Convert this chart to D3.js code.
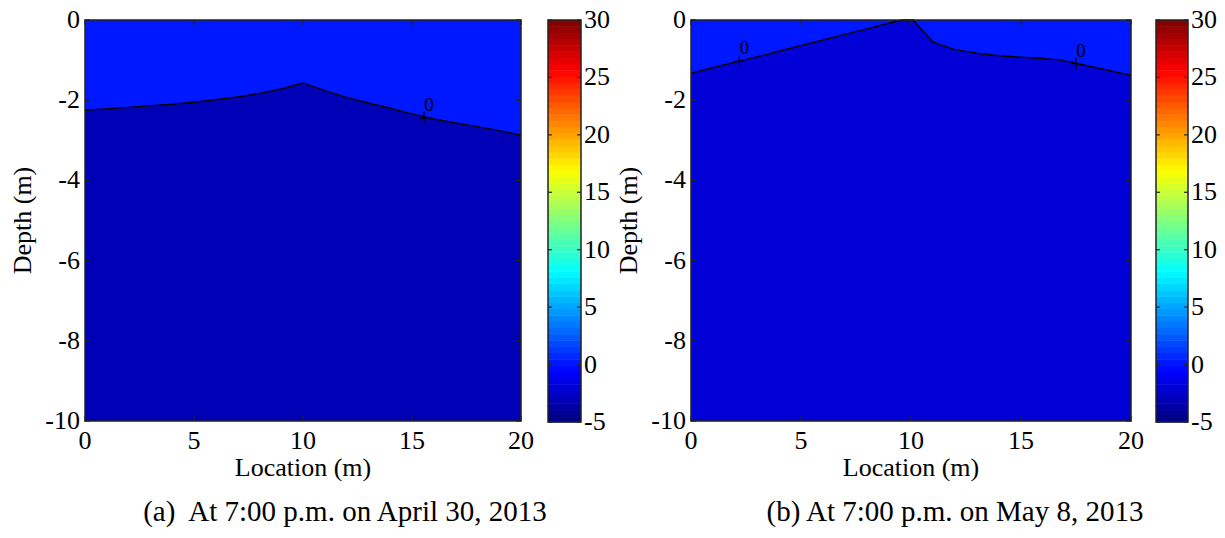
<!DOCTYPE html>
<html>
<head>
<meta charset="utf-8">
<script src="https://cdn.jsdelivr.net/npm/d3@7"></script>
<style>
  body { margin: 0; background: #fff; }
  svg { display: block; }
  text { font-family: "Liberation Serif", "Times New Roman", serif; fill: #000; }
  .caption { white-space: pre; }
</style>
</head>
<body>
<svg id="fig" width="1225" height="538"></svg>
<script>
// Axis ticks
const locationTicks = [0, 5, 10, 15, 20];
const depthTicks = [0, -2, -4, -6, -8, -10];
const colorTicks = [-5, 0, 5, 10, 15, 20, 25, 30];

// Zero-temperature contour, April 30 (location m, depth m)
const aprLoc   = [0, 2, 4, 5, 6, 7, 8, 9, 10, 11, 12, 13, 14, 15, 16, 17, 18, 19, 20];
const aprDepth = [-2.25, -2.18, -2.10, -2.05, -1.99, -1.92, -1.83, -1.72, -1.57, -1.76, -1.93, -2.07, -2.20, -2.34, -2.47, -2.57, -2.66, -2.76, -2.87];
const aprLabelLoc = [15.55];
const aprLabelDepth = [-2.44];

// Zero-temperature contour, May 8
const mayLoc   = [0, 1, 2, 3, 4, 5, 6, 7, 8, 9, 9.6, 10.1, 10.5, 11, 12, 13, 14, 15, 16, 16.8, 17.5, 18, 19, 20];
const mayDepth = [-1.33, -1.19, -1.05, -0.92, -0.78, -0.64, -0.50, -0.36, -0.22, -0.08, 0, 0, -0.25, -0.55, -0.74, -0.83, -0.89, -0.93, -0.96, -1.0, -1.08, -1.14, -1.26, -1.38];
const mayLabelLoc = [2.2, 17.5];
const mayLabelDepth = [-1.03, -1.09];

// Temperature level filling each side of the contour (°C)
const levelAbove = [0.3, 0.3];
const levelBelow = [-3.0, -2.2];

const captions = ["(a)  At 7:00 p.m. on April 30, 2013", "(b) At 7:00 p.m. on May 8, 2013"];

const cMin = -5, cMax = 30, nBands = 64;

// MATLAB-style jet colormap
function jet(t) {
  const c = v => Math.round(255 * Math.max(0, Math.min(1, v)));
  return d3.rgb(c(1.5 - Math.abs(4 * t - 3)), c(1.5 - Math.abs(4 * t - 2)), c(1.5 - Math.abs(4 * t - 1))).formatHex();
}
const colorOf = v => {
  const i = Math.min(nBands - 1, Math.max(0, Math.floor((v - cMin) / (cMax - cMin) * nBands)));
  return jet((i + 0.5) / nBands);
};

const svg = d3.select("#fig");

const panels = [
  { loc: aprLoc, depth: aprDepth, lLoc: aprLabelLoc, lDepth: aprLabelDepth,
    plot: { x0: 85, x1: 521, y0: 20, y1: 421 }, cbar: { x0: 548, x1: 581, y0: 20, y1: 422 },
    above: levelAbove[0], below: levelBelow[0], caption: captions[0], capX: 345 },
  { loc: mayLoc, depth: mayDepth, lLoc: mayLabelLoc, lDepth: mayLabelDepth,
    plot: { x0: 691, x1: 1131, y0: 20, y1: 421 }, cbar: { x0: 1156, x1: 1188, y0: 20, y1: 422 },
    above: levelAbove[1], below: levelBelow[1], caption: captions[1], capX: 955 }
];

const fs = 26;

panels.forEach(p => {
  const g = svg.append("g");
  const x = d3.scaleLinear().domain([0, 20]).range([p.plot.x0, p.plot.x1]);
  const y = d3.scaleLinear().domain([0, -10]).range([p.plot.y0, p.plot.y1]);
  const pts = p.loc.map((l, i) => [l, p.depth[i]]);

  // filled regions on both sides of the contour
  g.append("path").datum(pts)
    .attr("d", d3.area().x(d => x(d[0])).y0(y(0)).y1(d => y(d[1])))
    .attr("fill", colorOf(p.above));
  g.append("path").datum(pts)
    .attr("d", d3.area().x(d => x(d[0])).y0(y(-10)).y1(d => y(d[1])))
    .attr("fill", colorOf(p.below));

  // contour line
  g.append("path").datum(pts)
    .attr("d", d3.line().x(d => x(d[0])).y(d => y(d[1])))
    .attr("fill", "none").attr("stroke", "#000").attr("stroke-width", 1.4);

  // contour labels
  p.lLoc.forEach((l, i) => {
    const cx = x(l), cy = y(p.lDepth[i]);
    g.append("path").attr("d", `M${cx - 5},${cy}H${cx + 5}M${cx},${cy - 6}V${cy + 6}`)
      .attr("stroke", "#000").attr("stroke-width", 1.3);
    g.append("text").attr("x", cx + 5).attr("y", cy - 7).attr("text-anchor", "middle")
      .attr("font-size", 19).text("0");
  });

  // axes box and inward ticks
  const tl = 5;
  const ticks = g.append("g").attr("stroke", "#222").attr("stroke-width", 1.2);
  locationTicks.forEach(t => {
    ticks.append("line").attr("x1", x(t)).attr("x2", x(t)).attr("y1", y(0)).attr("y2", y(0) + tl);
    ticks.append("line").attr("x1", x(t)).attr("x2", x(t)).attr("y1", y(-10)).attr("y2", y(-10) - tl);
  });
  depthTicks.forEach(t => {
    ticks.append("line").attr("x1", x(0)).attr("x2", x(0) + tl).attr("y1", y(t)).attr("y2", y(t));
    ticks.append("line").attr("x1", x(20)).attr("x2", x(20) - tl).attr("y1", y(t)).attr("y2", y(t));
  });
  g.append("rect").attr("x", p.plot.x0).attr("y", p.plot.y0)
    .attr("width", p.plot.x1 - p.plot.x0).attr("height", p.plot.y1 - p.plot.y0)
    .attr("fill", "none").attr("stroke", "#222").attr("stroke-width", 1.5);

  // tick labels
  locationTicks.forEach(t => {
    g.append("text").attr("x", x(t)).attr("y", y(-10) + 28).attr("text-anchor", "middle")
      .attr("font-size", fs).text(t);
  });
  depthTicks.forEach(t => {
    g.append("text").attr("x", x(0) - 5).attr("y", y(t) + 8).attr("text-anchor", "end")
      .attr("font-size", fs).text(t);
  });

  // axis titles
  g.append("text").attr("x", (p.plot.x0 + p.plot.x1) / 2).attr("y", 476)
    .attr("text-anchor", "middle").attr("font-size", fs).text("Location (m)");
  g.append("text").attr("transform", `translate(${p.plot.x0 - 54},${(p.plot.y0 + p.plot.y1) / 2}) rotate(-90)`)
    .attr("text-anchor", "middle").attr("font-size", fs).text("Depth (m)");

  // colorbar
  const cy = d3.scaleLinear().domain([cMin, cMax]).range([p.cbar.y1, p.cbar.y0]);
  const bands = d3.range(nBands);
  const step = (cMax - cMin) / nBands;
  g.append("g").selectAll("rect").data(bands).join("rect")
    .attr("x", p.cbar.x0).attr("width", p.cbar.x1 - p.cbar.x0)
    .attr("y", i => cy(cMin + (i + 1) * step))
    .attr("height", i => cy(cMin + i * step) - cy(cMin + (i + 1) * step) + 0.5)
    .attr("fill", i => jet((i + 0.5) / nBands));
  const ct = g.append("g").attr("stroke", "#222").attr("stroke-width", 1.2);
  colorTicks.forEach(t => {
    ct.append("line").attr("x1", p.cbar.x0).attr("x2", p.cbar.x0 + 4).attr("y1", cy(t)).attr("y2", cy(t));
    ct.append("line").attr("x1", p.cbar.x1).attr("x2", p.cbar.x1 - 4).attr("y1", cy(t)).attr("y2", cy(t));
    g.append("text").attr("x", p.cbar.x1 + 3).attr("y", cy(t) + 8)
      .attr("font-size", fs).text(t);
  });
  g.append("rect").attr("x", p.cbar.x0).attr("y", p.cbar.y0)
    .attr("width", p.cbar.x1 - p.cbar.x0).attr("height", p.cbar.y1 - p.cbar.y0)
    .attr("fill", "none").attr("stroke", "#222").attr("stroke-width", 1.5);

  // caption
  svg.append("text").attr("class", "caption").attr("x", p.capX).attr("y", 521).attr("text-anchor", "middle")
    .attr("font-size", 29).text(p.caption);
});
</script>
</body>
</html>
